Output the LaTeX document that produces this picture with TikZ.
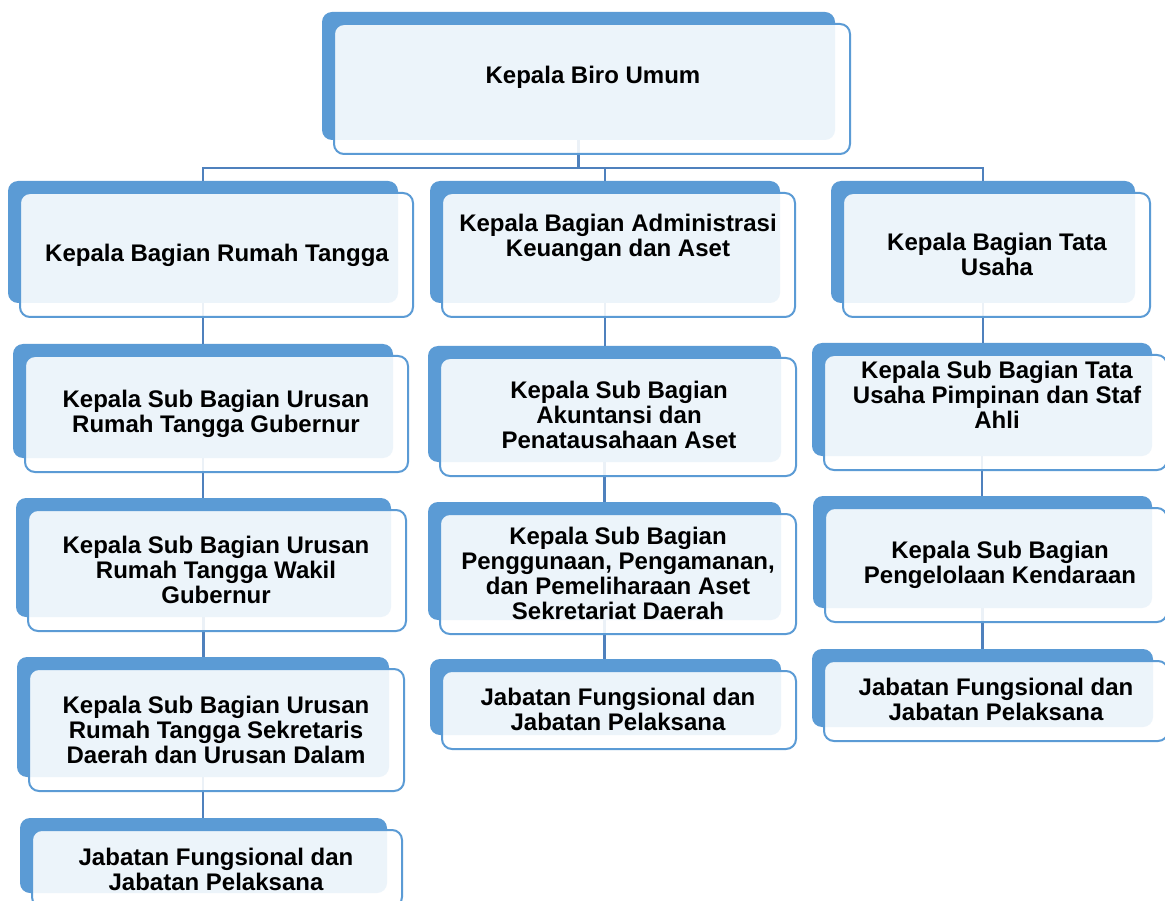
\documentclass[tikz,border=0pt]{standalone}
\usepackage{fontspec}
\setmainfont{Liberation Sans}
\usetikzlibrary{backgrounds}
\definecolor{acc}{RGB}{91,155,213}
\definecolor{lnc}{RGB}{79,129,189}
\tikzset{
  backbox/.style={fill=acc, draw=none, rounded corners=10pt, inner sep=0pt},
  frontbox/.style={fill=white, fill opacity=0.89, draw=acc, line width=2pt, rounded corners=10pt, inner sep=0pt},
  boxtext/.style={align=center, font=\bfseries\fontsize{24}{25}\selectfont, inner sep=0pt, text=black},
  conn/.style={draw=lnc, line width=2.2pt}
}
\newcommand\orgbox[8]{%
  \begin{pgfonlayer}{background}
  \node[backbox, minimum width={(#4-#2)*1pt}, minimum height={(#5-#3)*1pt}] (b#1) at ({(#2+#4)/2},{(#3+#5)/2}) {};
  \end{pgfonlayer}
  \node[frontbox, minimum width={(#4-#2+3)*1pt}, minimum height={(#5-#3+2)*1pt}] (f#1) at ({(#2+#4)/2+13.5},{(#3+#5)/2+13}) {};
  \node[boxtext] (t#1) at (#6,#7) {#8};
}
\begin{document}
\begin{tikzpicture}[x=1pt,y=-1pt]
\useasboundingbox (0,0) rectangle (1165,901);
\clip (0,0) rectangle (1165,901);
\begin{pgfonlayer}{background}
\fill[white] (0,0) rectangle (1165,901);
\end{pgfonlayer}
\orgbox{T}{322}{12}{835}{140}{593}{77}{Kepala Biro Umum}
\orgbox{C1}{8}{181}{398}{303}{217}{255}{Kepala Bagian Rumah Tangga}
\orgbox{C2}{430}{181}{780}{303}{618}{238}{Kepala Bagian Administrasi\\Keuangan dan Aset}
\orgbox{C3}{831}{181}{1135}{303}{997}{254}{Kepala Bagian Tata\\Usaha}
\orgbox{L1}{13}{344}{393}{458}{216}{414}{Kepala Sub Bagian Urusan\\Rumah Tangga Gubernur}
\orgbox{L2}{16}{498}{391}{617}{216}{570}{Kepala Sub Bagian Urusan\\Rumah Tangga Wakil\\Gubernur}
\orgbox{L3}{17}{657}{389}{777}{216}{730}{Kepala Sub Bagian Urusan\\Rumah Tangga Sekretaris\\Daerah dan Urusan Dalam}
\orgbox{L4}{20}{818}{387}{893}{216}{869}{Jabatan Fungsional dan\\Jabatan Pelaksana}
\orgbox{M1}{428}{346}{781}{462}{619}{415}{Kepala Sub Bagian\\Akuntansi dan\\Penatausahaan Aset}
\orgbox{M2}{428}{502}{781}{620}{618}{573.5}{Kepala Sub Bagian\\Penggunaan, Pengamanan,\\dan Pemeliharaan Aset\\Sekretariat Daerah}
\orgbox{M3}{430}{659}{781}{735}{618}{709.5}{Jabatan Fungsional dan\\Jabatan Pelaksana}
\orgbox{R1}{812}{343}{1152}{456}{997}{395}{Kepala Sub Bagian Tata\\Usaha Pimpinan dan Staf\\Ahli}
\orgbox{R2}{813}{496}{1152}{608}{1000}{565}{Kepala Sub Bagian\\Pengelolaan Kendaraan}
\orgbox{R3}{812}{649}{1153}{727}{996}{699.5}{Jabatan Fungsional dan\\Jabatan Pelaksana}
\begin{pgfonlayer}{background}
\coordinate (bus) at (0,168);
\draw[conn] (bT.south) -- (bT.south |- bus);
\draw[conn] (bC1.north) |- (bC3.north |- bus) -- (bC3.north);
\draw[conn] (bC2.north) -- (bC2.north |- bus);
\draw[conn] (bC1.south) -- (bC1.south |- bL1.north);
\draw[conn] (bL1.south) -- (bL1.south |- bL2.north);
\draw[conn] (bL2.south) -- (bL2.south |- bL3.north);
\draw[conn] (bL3.south) -- (bL3.south |- bL4.north);
\draw[conn] (bC2.south) -- (bC2.south |- bM1.north);
\draw[conn] (bM1.south) -- (bM1.south |- bM2.north);
\draw[conn] (bM2.south) -- (bM2.south |- bM3.north);
\draw[conn] (bC3.south) -- (bC3.south |- bR1.north);
\draw[conn] (bR1.south) -- (bR1.south |- bR2.north);
\draw[conn] (bR2.south) -- (bR2.south |- bR3.north);
\end{pgfonlayer}
\end{tikzpicture}
\end{document}
